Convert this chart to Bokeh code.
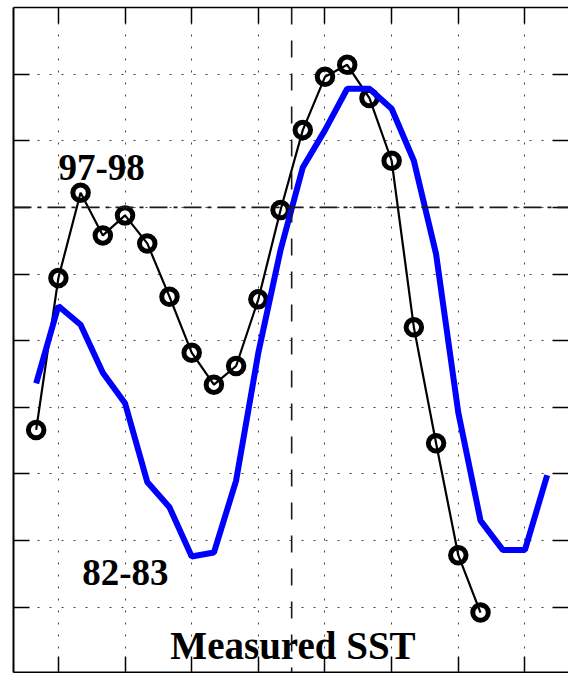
from bokeh.plotting import figure
from bokeh.models import Span, LinearAxis, FixedTicker, Range1d
from bokeh.models.labeling import CustomLabelingPolicy
from bokeh.embed import file_html
from bokeh.resources import INLINE
from bokeh.core.properties import value

# Monthly SST (deg C) through the two strong El Nino events
months_9798 = list(range(21))
sst_9798 = [26.33, 27.47, 28.11, 27.79, 27.94, 27.73, 27.33, 26.91, 26.67, 26.81,
            27.31, 27.98, 28.58, 28.98, 29.07, 28.82, 28.35, 27.10, 26.23, 25.39,
            24.96]
months_8283 = list(range(24))
sst_8283 = [26.68, 27.26, 27.12, 26.76, 26.53, 25.94, 25.75, 25.38, 25.41, 25.95,
            26.91, 27.68, 28.30, 28.58, 28.89, 28.89, 28.74, 28.35, 27.65, 26.46,
            25.65, 25.43, 25.43, 25.99]

x_ticks = [1, 4, 7, 10, 13, 16, 19, 22]
y_ticks = [25.0, 25.5, 26.0, 26.5, 27.0, 27.5, 28.0, 28.5, 29.0]
threshold_sst = 28.0
mid_month = 11.5

FONT = "Liberation Serif"

p = figure(width=568, height=673, output_backend="svg", toolbar_location=None,
           x_range=Range1d(-1.02, 23.96), y_range=Range1d(24.51, 29.5),
           x_axis_location=None, y_axis_location=None,
           min_border_left=13, min_border_right=0, min_border_top=7,
           min_border_bottom=1)
p.outline_line_color = None
p.background_fill_color = "white"
p.border_fill_color = "white"

# tick marks only, no tick labels
no_labels = CustomLabelingPolicy(
    code="const r = indices.clone(); for (let i = 0; i < r.size; i++) { r.unset(i) } return r")


def make_axis(ticks, show_line=True):
    ax = LinearAxis(ticker=FixedTicker(ticks=ticks))
    ax.major_label_policy = no_labels
    ax.major_label_text_font_size = "0px"
    ax.major_label_standoff = 0
    ax.major_tick_out = 0
    ax.major_tick_in = 16
    ax.major_tick_line_width = 1.5
    ax.major_tick_line_color = "black"
    ax.minor_tick_line_color = None
    ax.axis_line_color = "black" if show_line else None
    ax.axis_line_width = 2
    return ax


p.add_layout(make_axis(y_ticks), "left")
p.add_layout(make_axis(y_ticks, show_line=False), "right")
p.add_layout(make_axis(x_ticks), "below")
top_axis = make_axis(x_ticks)
top_axis.axis_line_width = 1.5
p.add_layout(top_axis, "above")

p.xgrid.ticker = FixedTicker(ticks=x_ticks)
p.ygrid.ticker = FixedTicker(ticks=y_ticks)
for g in (p.xgrid, p.ygrid):
    g.grid_line_color = "#444444"
    g.grid_line_dash = "2 10"
    g.grid_line_width = 1

p.add_layout(Span(location=threshold_sst, dimension="width", line_color="#1a1a1a",
                  line_width=1.6, line_dash="18 6 4 6"))
p.add_layout(Span(location=mid_month, dimension="height", line_color="#1a1a1a",
                  line_width=1.6, line_dash="17 16"))

# 1997-98: thin black line with open circles
p.line(months_9798, sst_9798, line_color="black", line_width=2.2)
p.scatter(months_9798, sst_9798, marker="circle", size=15.5, fill_alpha=0,
          line_color="black", line_width=5)

# 1982-83: thick blue line
p.line(months_8283, sst_8283, line_color="#0000ff", line_width=6)

p.text(x=[1.0], y=[28.3], text=["97-98"], text_font=value(FONT),
       text_font_style="bold", text_font_size="37px", text_baseline="alphabetic",
       text_align="left", text_color="black")
p.text(x=[2.07], y=[25.26], text=["82-83"], text_font=value(FONT),
       text_font_style="bold", text_font_size="37px", text_baseline="alphabetic",
       text_align="left", text_color="black")
p.text(x=[6.04], y=[24.71], text=["Measured SST"], text_font=value(FONT),
       text_font_style="bold", text_font_size="39px", text_baseline="alphabetic",
       text_align="left", text_color="black")

open("out.html", "w").write(file_html(p, INLINE))
